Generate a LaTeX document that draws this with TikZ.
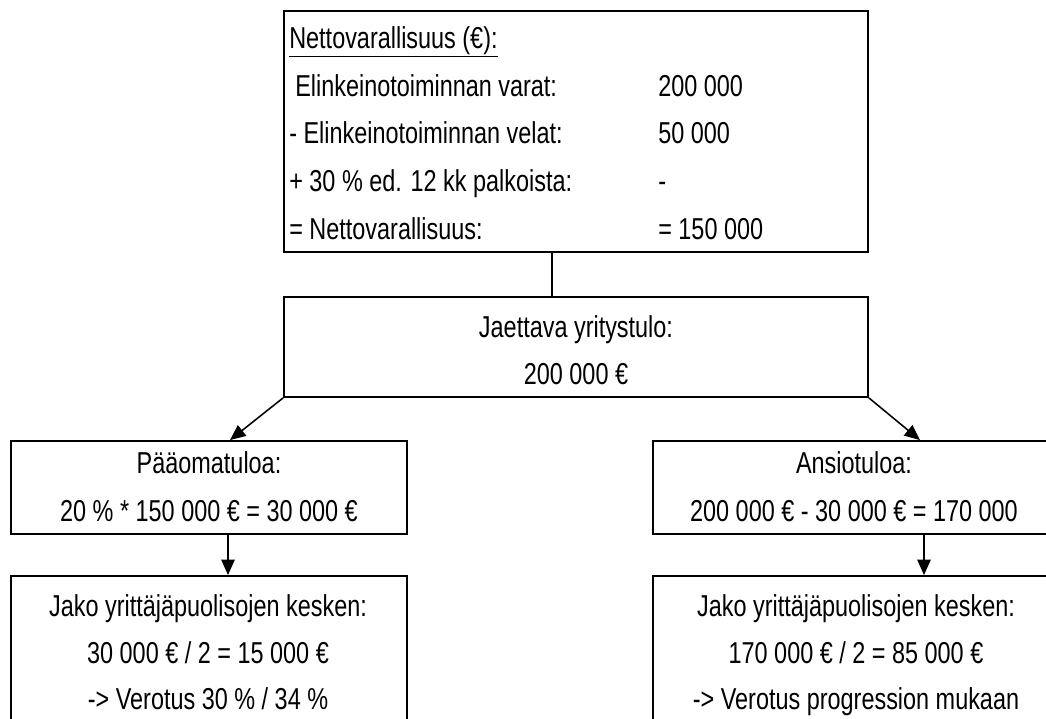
\documentclass[tikz,border=0pt]{standalone}
\usepackage{fontspec}
\setmainfont[FakeStretch=0.775]{Liberation Sans}
\usetikzlibrary{arrows.meta,fit}

\begin{document}
\begin{tikzpicture}[x=0.025cm,y=-0.025cm,
  box/.style={draw,rectangle,line width=1.3pt,inner sep=0pt},
  txt/.style={anchor=base,inner sep=0pt,font=\fontsize{21.5pt}{24pt}\selectfont},
  lft/.style={txt,anchor=base west},
  conn/.style={line width=1.1pt},
  arr/.style={conn,-{Triangle[length=11pt,width=9.5pt]}}]
  \useasboundingbox (0,0) rectangle (1046,718);
  \clip (0,0) rectangle (1046,718);
  \fill[white] (0,0) rectangle (1046,718);

  % boxes
  \node[box,fit={(284,11) (868,252)}] (vara) {};
  \node[box,fit={(284,297) (868,397)}] (tulo) {};
  \node[box,fit={(11,441) (407,534)}] (paa) {};
  \node[box,fit={(653,441) (1055,534)}] (ansio) {};
  \node[box,fit={(11,576) (407,760)}] (jakoA) {};
  \node[box,fit={(653,576) (1055,760)}] (jakoB) {};

  % nettovarallisuus
  \node[lft] (hdr) at (289,48) {\underline{Nettovarallisuus (€):}};
  \node[lft] (var) at (295,96) {Elinkeinotoiminnan varat:};
  \node[lft] (vel) at (289,143) {- Elinkeinotoiminnan velat:};
  \node[lft] (pal) at (289,191) {+ 30 \% ed. 12 kk palkoista:};
  \node[lft] (net) at (289,239) {= Nettovarallisuus:};
  \node[lft] (varN) at (658,96) {200 000};
  \node[lft] (velN) at (658,143) {50 000};
  \node[lft] (palN) at (658,191) {-};
  \node[lft] (netN) at (658,239) {= 150 000};

  % yritystulo
  \node[txt] (tuloA) at (576,337) {Jaettava yritystulo:};
  \node[txt] (tuloB) at (576,384) {200 000 €};

  \node[txt] (paaA) at (209,473) {Pääomatuloa:};
  \node[txt] (paaB) at (209,521) {20 \% * 150 000 € = 30 000 €};
  \node[txt] (ansioA) at (854,473) {Ansiotuloa:};
  \node[txt] (ansioB) at (854,521) {200 000 € - 30 000 € = 170 000};

  \node[txt] (jakoA1) at (208,616) {Jako yrittäjäpuolisojen kesken:};
  \node[txt] (jakoA2) at (208,663) {30 000 € / 2 = 15 000 €};
  \node[txt] (jakoA3) at (208,709) {-> Verotus 30 \% / 34 \%};
  \node[txt] (jakoB1) at (856,616) {Jako yrittäjäpuolisojen kesken:};
  \node[txt] (jakoB2) at (856,663) {170 000 € / 2 = 85 000 €};
  \node[txt] (jakoB3) at (856,709) {-> Verotus progression mukaan};

  % connectors
  \coordinate (cTop) at (552,0);
  \coordinate (cA) at (230,0);
  \coordinate (cB) at (920,0);
  \coordinate (vA) at (228,0);
  \coordinate (vB) at (924,0);
  \draw[conn] (vara.south -| cTop) -- (tulo.north -| cTop);
  \draw[arr] (tulo.south west) -- (paa.north -| cA);
  \draw[arr] (tulo.south east) -- (ansio.north -| cB);
  \draw[arr] (paa.south -| vA) -- (jakoA.north -| vA);
  \draw[arr] (ansio.south -| vB) -- (jakoB.north -| vB);
\end{tikzpicture}
\end{document}
